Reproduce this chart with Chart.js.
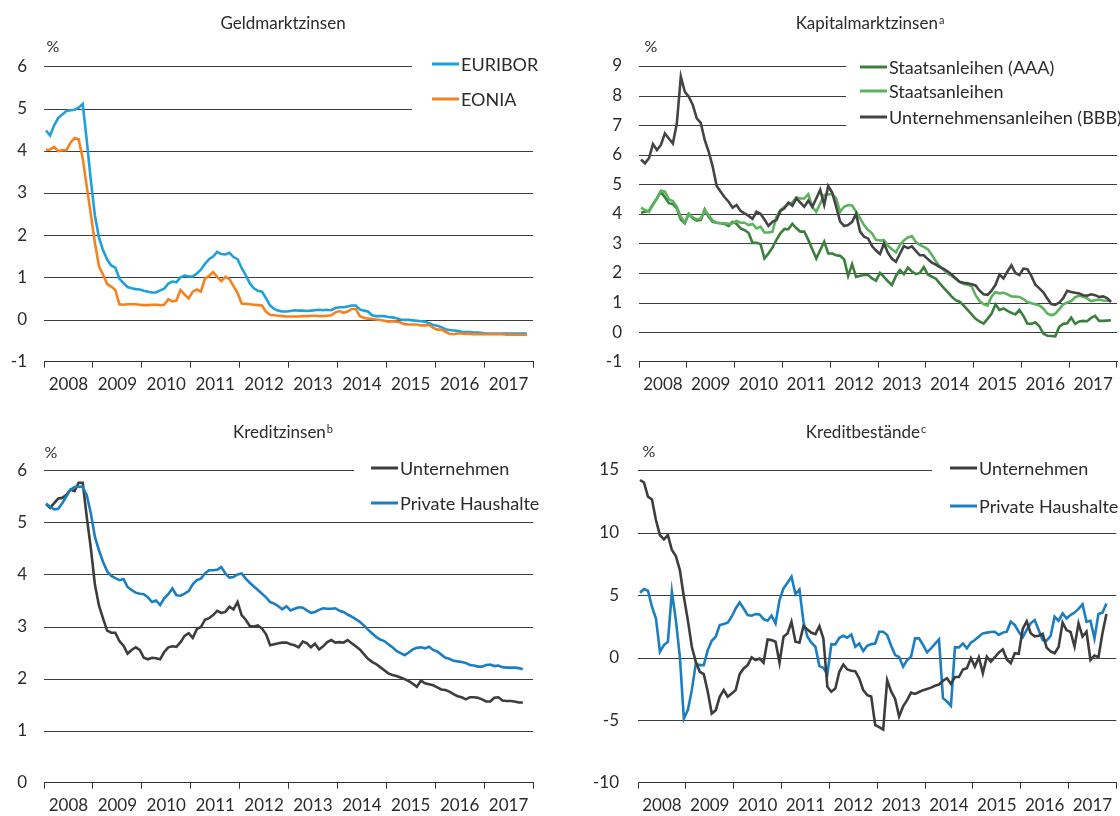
<!DOCTYPE html>
<html>
<head>
<meta charset="utf-8">
<script src="https://cdn.jsdelivr.net/npm/chart.js@4.4.1/dist/chart.umd.min.js"></script>
<style>
  body { margin: 0; background: #fff; }
  .panel { position: absolute; width: 560px; height: 408px; }
</style>
</head>
<body>
<div class="panel" style="left:0;top:0"><canvas id="c1" width="560" height="408"></canvas></div>
<div class="panel" style="left:560px;top:0"><canvas id="c2" width="560" height="408"></canvas></div>
<div class="panel" style="left:0;top:408px"><canvas id="c3" width="560" height="408"></canvas></div>
<div class="panel" style="left:560px;top:408px"><canvas id="c4" width="560" height="408"></canvas></div>
<script>
// monthly values, first value = January 2008
const startYear = 2008;
const years = ['2008', '2009', '2010', '2011', '2012', '2013', '2014', '2015', '2016', '2017'];

// Geldmarktzinsen
const euribor = [
  4.48, 4.36, 4.60, 4.78, 4.86, 4.94, 4.96, 4.97, 5.02, 5.11, 4.24, 3.29,
  2.46, 1.94, 1.64, 1.42, 1.28, 1.23, 0.97, 0.86, 0.77, 0.74, 0.72, 0.71,
  0.68, 0.66, 0.64, 0.64, 0.69, 0.73, 0.85, 0.90, 0.88, 1.00, 1.04, 1.02,
  1.02, 1.09, 1.18, 1.32, 1.43, 1.49, 1.60, 1.55, 1.54, 1.58, 1.48, 1.43,
  1.22, 1.05, 0.86, 0.74, 0.68, 0.66, 0.50, 0.33, 0.25, 0.21, 0.19, 0.19,
  0.20, 0.22, 0.21, 0.21, 0.20, 0.21, 0.22, 0.23, 0.22, 0.23, 0.22, 0.27,
  0.29, 0.29, 0.31, 0.33, 0.33, 0.24, 0.21, 0.19, 0.10, 0.08, 0.08, 0.08,
  0.06, 0.05, 0.03, 0.00, -0.01, -0.01, -0.02, -0.03, -0.04, -0.05, -0.09, -0.13,
  -0.15, -0.18, -0.23, -0.25, -0.26, -0.27, -0.29, -0.30, -0.30, -0.31, -0.31, -0.32,
  -0.33, -0.33, -0.33, -0.33, -0.33, -0.33, -0.33, -0.33, -0.33, -0.33, -0.33
];
const eonia = [
  4.02, 4.03, 4.09, 3.99, 4.01, 4.01, 4.19, 4.30, 4.27, 3.82, 3.15, 2.49,
  1.81, 1.26, 1.06, 0.84, 0.78, 0.70, 0.36, 0.35, 0.36, 0.36, 0.36, 0.35,
  0.34, 0.34, 0.35, 0.35, 0.34, 0.35, 0.48, 0.43, 0.45, 0.70, 0.59, 0.50,
  0.66, 0.71, 0.66, 0.97, 1.03, 1.12, 1.01, 0.91, 1.01, 0.96, 0.79, 0.63,
  0.38, 0.37, 0.36, 0.35, 0.34, 0.33, 0.18, 0.11, 0.10, 0.09, 0.08, 0.07,
  0.07, 0.07, 0.07, 0.08, 0.08, 0.09, 0.09, 0.08, 0.08, 0.09, 0.10, 0.17,
  0.20, 0.16, 0.19, 0.25, 0.25, 0.08, 0.04, 0.02, 0.01, 0.00, -0.01, -0.03,
  -0.05, -0.04, -0.05, -0.07, -0.11, -0.12, -0.12, -0.12, -0.14, -0.14, -0.13, -0.20,
  -0.24, -0.24, -0.29, -0.34, -0.35, -0.33, -0.33, -0.34, -0.34, -0.35, -0.35, -0.35,
  -0.35, -0.35, -0.35, -0.35, -0.35, -0.36, -0.36, -0.36, -0.36, -0.36, -0.36
];

// Kapitalmarktzinsen
const staatAAA = [
  4.04, 4.07, 4.10, 4.33, 4.52, 4.75, 4.56, 4.36, 4.33, 4.19, 3.81, 3.68,
  4.00, 3.85, 3.77, 3.80, 4.15, 3.90, 3.73, 3.70, 3.68, 3.66, 3.59, 3.73,
  3.66, 3.51, 3.45, 3.36, 3.02, 3.02, 2.98, 2.49, 2.66, 2.86, 3.12, 3.34,
  3.49, 3.48, 3.66, 3.51, 3.40, 3.40, 3.12, 2.80, 2.49, 2.78, 3.06, 2.66,
  2.66, 2.60, 2.58, 2.46, 1.90, 2.30, 1.87, 1.91, 1.93, 1.93, 1.82, 1.74,
  2.00, 1.87, 1.72, 1.59, 1.90, 2.10, 1.96, 2.18, 2.05, 1.96, 2.00, 2.20,
  1.95, 1.88, 1.81, 1.65, 1.50, 1.35, 1.20, 1.08, 1.03, 0.90, 0.75, 0.60,
  0.45, 0.36, 0.29, 0.45, 0.62, 0.94, 0.75, 0.80, 0.72, 0.65, 0.60, 0.75,
  0.55, 0.29, 0.28, 0.33, 0.20, -0.05, -0.12, -0.13, -0.14, 0.18, 0.28, 0.30,
  0.49, 0.28, 0.36, 0.38, 0.37, 0.48, 0.55, 0.38, 0.38, 0.39, 0.40
];
const staat = [
  4.21, 4.13, 4.07, 4.30, 4.52, 4.78, 4.75, 4.49, 4.43, 4.24, 3.90, 3.71,
  4.00, 3.88, 3.81, 3.84, 4.13, 3.96, 3.77, 3.70, 3.68, 3.68, 3.66, 3.68,
  3.76, 3.70, 3.70, 3.62, 3.66, 3.51, 3.57, 3.37, 3.37, 3.40, 3.90, 4.13,
  4.24, 4.33, 4.38, 4.56, 4.52, 4.52, 4.66, 4.24, 4.07, 4.35, 4.63, 4.66,
  4.67, 4.52, 4.07, 4.24, 4.30, 4.28, 4.07, 3.85, 3.62, 3.45, 3.34, 3.12,
  3.10, 3.11, 2.92, 2.80, 2.70, 2.95, 3.10, 3.20, 3.25, 3.05, 2.95, 2.88,
  2.80, 2.62, 2.40, 2.23, 2.10, 1.98, 1.90, 1.80, 1.70, 1.63, 1.60, 1.55,
  1.25, 1.05, 0.95, 0.90, 1.20, 1.36, 1.31, 1.33, 1.28, 1.21, 1.20, 1.19,
  1.12, 1.02, 0.98, 0.94, 0.90, 0.80, 0.63, 0.57, 0.62, 0.78, 0.94, 1.00,
  1.05, 1.18, 1.23, 1.20, 1.14, 1.05, 1.08, 1.10, 1.07, 1.06, 1.06
];
const unternehmensBBB = [
  5.84, 5.71, 5.88, 6.36, 6.16, 6.33, 6.72, 6.55, 6.38, 7.06, 8.64, 8.13,
  7.96, 7.68, 7.23, 7.08, 6.50, 6.10, 5.60, 4.94, 4.75, 4.56, 4.41, 4.21,
  4.30, 4.10, 4.02, 3.93, 3.83, 4.07, 4.00, 3.81, 3.59, 3.73, 3.79, 4.10,
  4.19, 4.38, 4.27, 4.52, 4.38, 4.24, 4.45, 4.24, 4.52, 4.81, 4.30, 4.94,
  4.72, 4.24, 3.74, 3.59, 3.62, 3.73, 4.00, 3.40, 3.23, 3.17, 2.91, 2.76,
  2.64, 3.00, 2.68, 2.48, 2.38, 2.65, 2.91, 2.84, 2.90, 2.75, 2.60, 2.60,
  2.47, 2.35, 2.28, 2.20, 2.14, 2.05, 1.95, 1.82, 1.70, 1.67, 1.65, 1.62,
  1.58, 1.40, 1.28, 1.26, 1.40, 1.60, 1.95, 1.82, 2.05, 2.26, 2.00, 1.93,
  2.15, 2.13, 1.90, 1.60, 1.48, 1.35, 1.14, 0.95, 0.92, 1.00, 1.15, 1.40,
  1.36, 1.33, 1.31, 1.25, 1.23, 1.28, 1.25, 1.19, 1.21, 1.15, 1.02
];

// Kreditzinsen
const zinsUnternehmen = [
  5.35, 5.28, 5.37, 5.46, 5.47, 5.53, 5.63, 5.60, 5.76, 5.76, 5.10, 4.50,
  3.80, 3.40, 3.15, 2.92, 2.88, 2.88, 2.72, 2.63, 2.48, 2.55, 2.60, 2.55,
  2.40, 2.37, 2.40, 2.39, 2.37, 2.51, 2.60, 2.62, 2.61, 2.70, 2.82, 2.87,
  2.78, 2.95, 2.99, 3.13, 3.16, 3.22, 3.30, 3.26, 3.28, 3.38, 3.33, 3.47,
  3.22, 3.13, 3.01, 3.00, 3.02, 2.96, 2.85, 2.64, 2.66, 2.68, 2.69, 2.69,
  2.66, 2.64, 2.60, 2.71, 2.68, 2.60, 2.67, 2.56, 2.62, 2.70, 2.74, 2.69,
  2.70, 2.69, 2.74, 2.68, 2.62, 2.56, 2.47, 2.38, 2.32, 2.28, 2.22, 2.16,
  2.10, 2.07, 2.05, 2.02, 1.99, 1.95, 1.90, 1.84, 1.96, 1.91, 1.89, 1.87,
  1.83, 1.79, 1.78, 1.75, 1.70, 1.66, 1.64, 1.60, 1.64, 1.64, 1.63, 1.60,
  1.56, 1.56, 1.63, 1.64, 1.58, 1.57, 1.57, 1.56, 1.54, 1.54
];
const zinsHaushalte = [
  5.36, 5.30, 5.25, 5.26, 5.37, 5.50, 5.63, 5.68, 5.69, 5.68, 5.52, 5.17,
  4.72, 4.46, 4.24, 4.06, 3.97, 3.93, 3.89, 3.91, 3.76, 3.70, 3.65, 3.63,
  3.62, 3.56, 3.47, 3.50, 3.41, 3.54, 3.62, 3.73, 3.60, 3.59, 3.63, 3.68,
  3.81, 3.89, 3.92, 4.02, 4.08, 4.08, 4.09, 4.14, 4.02, 3.94, 3.95, 4.00,
  4.02, 3.92, 3.84, 3.77, 3.70, 3.63, 3.56, 3.47, 3.44, 3.39, 3.33, 3.39,
  3.31, 3.34, 3.37, 3.36, 3.31, 3.26, 3.28, 3.32, 3.35, 3.34, 3.34, 3.35,
  3.30, 3.28, 3.23, 3.19, 3.14, 3.09, 3.02, 2.94, 2.87, 2.80, 2.75, 2.72,
  2.66, 2.60, 2.53, 2.49, 2.45, 2.50, 2.56, 2.59, 2.60, 2.58, 2.61, 2.55,
  2.52, 2.46, 2.40, 2.38, 2.34, 2.33, 2.32, 2.30, 2.26, 2.25, 2.23, 2.23,
  2.26, 2.27, 2.24, 2.25, 2.22, 2.21, 2.21, 2.21, 2.20, 2.18
];

// Kreditbestände
const bestandUnternehmen = [
  14.2, 14.0, 12.87, 12.65, 11.0, 9.8, 9.45, 9.8, 8.6, 8.12, 7.0, 4.87,
  3.0, 0.87, -0.33, -1.13, -1.32, -2.73, -4.47, -4.2, -3.13, -2.6, -3.13, -2.87,
  -2.6, -1.32, -0.87, -0.6, 0.01, -0.2, -0.07, -0.41, 1.45, 1.4, 1.27, -0.41,
  1.67, 1.93, 2.87, 1.27, 1.19, 2.52, 2.25, 1.99, 1.88, 2.52, 1.53, -2.33,
  -2.73, -2.47, -1.13, -0.55, -0.95, -1.05, -1.08, -1.67, -2.6, -3.0, -3.1, -5.4,
  -5.55, -5.75, -1.8, -2.7, -3.3, -4.7, -3.9, -3.4, -2.8, -2.9, -2.75, -2.6,
  -2.5, -2.4, -2.25, -2.15, -1.85, -1.65, -2.1, -1.55, -1.55, -0.95, -0.85, -0.05,
  -0.72, 0.03, -1.25, 0.08, -0.32, 0.03, 0.4, 0.66, -0.13, -0.45, 0.35, 0.3,
  2.3, 2.9, 1.95, 1.7, 1.75, 1.9, 0.8, 0.5, 0.35, 0.85, 2.8, 2.2,
  2.05, 0.88, 2.74, 1.68, 2.07, -0.19, 0.16, 0.03, 1.94, 3.48
];
const bestandHaushalte = [
  5.19, 5.48, 5.35, 4.07, 3.13, 0.47, 1.0, 1.27, 5.27, 3.0, 0.07, -4.87,
  -4.2, -2.6, -0.47, -0.6, -0.6, 0.6, 1.35, 1.67, 2.6, 2.68, 2.79, 3.27,
  3.93, 4.41, 3.93, 3.4, 3.35, 3.48, 3.45, 3.08, 2.95, 3.35, 2.73, 4.6,
  5.53, 5.99, 6.47, 5.08, 5.45, 2.87, 1.67, 1.19, 0.87, -0.68, -0.81, -1.32,
  1.08, 1.05, 1.59, 1.75, 1.59, 1.85, 0.87, 1.13, 0.52, 0.95, 1.08, 1.13,
  2.07, 2.07, 1.81, 0.95, 0.2, 0.05, -0.72, -0.19, 0.08, 1.54, 1.54, 1.01,
  0.42, 0.74, 1.1, 1.46, -3.24, -3.51, -3.86, 0.82, 0.82, 1.14, 0.74, 1.2,
  1.41, 1.68, 1.94, 2.0, 2.05, 2.07, 1.81, 2.0, 2.07, 2.87, 2.61, 2.07,
  1.62, 2.21, 2.74, 3.0, 2.21, 1.41, 1.36, 1.73, 3.27, 2.95, 3.54, 3.14,
  3.4, 3.6, 3.9, 4.26, 2.87, 2.95, 1.54, 3.48, 3.59, 4.33
];

const FONT = 'Lato, "Noto Sans", sans-serif';
const TEXT = '#2b2b2b';

function toPoints(values) {
  return values.map((v, i) => ({ x: startYear + (i + 0.5) / 12, y: v }));
}

function line(label, values, color, order) {
  return {
    label: label,
    data: toPoints(values),
    borderColor: color,
    backgroundColor: color,
    borderWidth: 2.6,
    pointRadius: 0,
    tension: 0,
    order: order
  };
}

// gridlines (top ones stop short of the legend), titles, "%" and legend
const panelDecor = {
  id: 'panelDecor',
  beforeDatasetsDraw(chart, args, opts) {
    const { ctx, chartArea } = chart;
    const yScale = chart.scales.y;
    ctx.save();
    ctx.strokeStyle = '#3c3c3c';
    ctx.lineWidth = 1;
    yScale.ticks.forEach(t => {
      if (t.value === yScale.min) return;
      const y = Math.round(yScale.getPixelForValue(t.value)) + 0.5;
      const right = t.value >= opts.cutFrom ? opts.cutX : chartArea.right;
      ctx.beginPath();
      ctx.moveTo(chartArea.left, y);
      ctx.lineTo(right, y);
      ctx.stroke();
    });
    ctx.restore();
  },
  afterDraw(chart, args, opts) {
    const ctx = chart.ctx;
    ctx.save();
    ctx.fillStyle = TEXT;
    ctx.textBaseline = 'middle';

    // title with optional superscript
    ctx.font = '17px ' + FONT;
    const w1 = ctx.measureText(opts.title).width;
    let w2 = 0;
    if (opts.sup) {
      ctx.font = '11px ' + FONT;
      w2 = ctx.measureText(opts.sup).width + 1;
    }
    const tx = opts.titleX - (w1 + w2) / 2;
    ctx.font = '17px ' + FONT;
    ctx.textAlign = 'left';
    ctx.fillText(opts.title, tx, opts.titleY);
    if (opts.sup) {
      ctx.font = '11px ' + FONT;
      ctx.fillText(opts.sup, tx + w1 + 1, opts.titleY - 4);
    }

    ctx.font = '16px ' + FONT;
    ctx.textAlign = 'center';
    ctx.fillText('%', opts.pctX, opts.pctY);

    // legend
    ctx.font = '18px ' + FONT;
    ctx.textAlign = 'left';
    chart.data.datasets.forEach((ds, i) => {
      const y = opts.legendY[i];
      ctx.strokeStyle = ds.borderColor;
      ctx.lineWidth = 3;
      ctx.beginPath();
      ctx.moveTo(opts.legendX, y);
      ctx.lineTo(opts.legendX + 27, y);
      ctx.stroke();
      ctx.fillText(ds.label, opts.legendX + 29, y + 1);
    });
    ctx.restore();
  }
};

function makeChart(id, datasets, yMin, yMax, yStep, area, decor) {
  const canvas = document.getElementById(id);
  return new Chart(canvas, {
    type: 'line',
    data: { datasets: datasets },
    options: {
      responsive: false,
      animation: false,
      devicePixelRatio: 1,
      layout: { padding: { top: area.top, right: 560 - area.right, bottom: 0, left: 0 } },
      plugins: {
        legend: { display: false },
        tooltip: { enabled: false },
        panelDecor: decor
      },
      scales: {
        x: { type: 'linear', min: 2008, max: 2018, display: false },
        xc: {
          type: 'category',
          labels: years,
          position: 'bottom',
          offset: true,
          grid: { offset: true, drawOnChartArea: false, tickLength: 6, color: '#333', lineWidth: 1 },
          border: { display: true, color: '#333', width: 1 },
          ticks: { color: TEXT, font: { family: FONT, size: 17 }, padding: 7, maxRotation: 0, autoSkip: false },
          afterFit: s => { s.height = 408 - area.bottom; }
        },
        y: {
          min: yMin,
          max: yMax,
          grid: { display: false, drawTicks: false },
          border: { display: false },
          ticks: { stepSize: yStep, color: TEXT, font: { family: FONT, size: 17 }, padding: area.labelPad },
          afterFit: s => { s.width = area.left; }
        }
      }
    },
    plugins: [panelDecor]
  });
}

makeChart('c1',
  [line('EURIBOR', euribor, '#1ea0da', 2), line('EONIA', eonia, '#f5821f', 1)],
  -1, 6, 1,
  { left: 44, right: 533, top: 66.3, bottom: 361.7, labelPad: 17 },
  { title: 'Geldmarktzinsen', titleX: 283, titleY: 24, pctX: 53, pctY: 47,
    cutFrom: 5, cutX: 412, legendX: 432, legendY: [64, 99] });

makeChart('c2',
  [line('Staatsanleihen (AAA)', staatAAA, '#3a7f3c', 3),
   line('Staatsanleihen', staat, '#5cb35e', 2),
   line('Unternehmensanleihen (BBB)', unternehmensBBB, '#444444', 1)],
  -1, 9, 1,
  { left: 79, right: 557, top: 66, bottom: 361.7, labelPad: 17 },
  { title: 'Kapitalmarktzinsen', sup: 'a', titleX: 310, titleY: 24, pctX: 91, pctY: 47,
    cutFrom: 7, cutX: 286, legendX: 300, legendY: [67, 91, 117] });

makeChart('c3',
  [line('Unternehmen', zinsUnternehmen, '#3d3d3d', 2),
   line('Private Haushalte', zinsHaushalte, '#1b7ec2', 1)],
  0, 6, 1,
  { left: 44, right: 533, top: 62.3, bottom: 374.7, labelPad: 17 },
  { title: 'Kreditzinsen', sup: 'b', titleX: 283, titleY: 25, pctX: 51, pctY: 45,
    cutFrom: 6, cutX: 354, legendX: 371, legendY: [60, 95] });

makeChart('c4',
  [line('Unternehmen', bestandUnternehmen, '#3d3d3d', 1),
   line('Private Haushalte', bestandHaushalte, '#1b7ec2', 2)],
  -10, 15, 5,
  { left: 78, right: 556.4, top: 62, bottom: 374.7, labelPad: 19 },
  { title: 'Kreditbestände', sup: 'c', titleX: 306, titleY: 25, pctX: 89, pctY: 44,
    cutFrom: 15, cutX: 372, legendX: 390, legendY: [60, 98] });
</script>
</body>
</html>
